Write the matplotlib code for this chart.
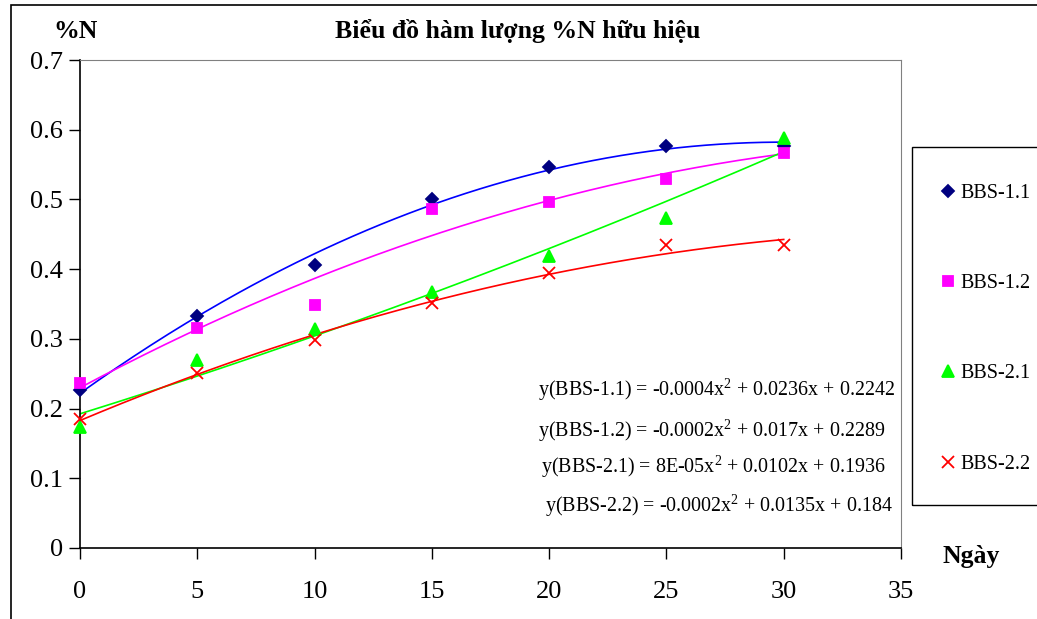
import numpy as np
import matplotlib
matplotlib.use("Agg")
import matplotlib.pyplot as plt
from matplotlib.patches import Rectangle

# Days of sampling
days = [0, 5, 10, 15, 20, 25, 30]

# %N values
bbs_11 = [0.226, 0.333, 0.406, 0.500, 0.546, 0.577, 0.577]
bbs_12 = [0.236, 0.316, 0.349, 0.486, 0.497, 0.530, 0.566]
bbs_21 = [0.174, 0.269, 0.314, 0.367, 0.419, 0.473, 0.588]
bbs_22 = [0.185, 0.251, 0.298, 0.352, 0.394, 0.434, 0.435]

labels = ["BBS-1.1", "BBS-1.2", "BBS-2.1", "BBS-2.2"]
equations = [
    "y(BBS-1.1) = -0.0004x$^2$ + 0.0236x + 0.2242",
    "y(BBS-1.2) = -0.0002x$^2$ + 0.017x + 0.2289",
    "y(BBS-2.1) = 8E-05x$^2$ + 0.0102x + 0.1936",
    "y(BBS-2.2) = -0.0002x$^2$ + 0.0135x + 0.184",
]

plt.rcParams['font.family'] = ['Liberation Serif', 'DejaVu Serif']
plt.rcParams['mathtext.fontset'] = 'custom'
plt.rcParams['mathtext.rm'] = 'Liberation Serif'

W, H = 1037, 619
fig = plt.figure(figsize=(W / 100, H / 100), dpi=100)
ax = fig.add_axes([80 / W, 1 - 548 / H, (901 - 80) / W, (548 - 60) / H])

series = [
    (bbs_11, 'D', '#000080', '#0000FF', 6.5),
    (bbs_12, 's', '#FF00FF', '#FF00FF', 7),
    (bbs_21, '^', '#00FF00', '#00FF00', 8.5),
    (bbs_22, 'x', '#FF0000', '#FF0000', 8.5),
]

xs = np.linspace(0, 30, 200)
handles = []
for (vals, mk, mcol, lcol, ms), lab in zip(series, labels):
    # 2nd order polynomial trendline, like Excel
    coef = np.polyfit(days, vals, 2)
    ax.plot(xs, np.polyval(coef, xs), color=lcol, lw=1.2, zorder=2)
    h, = ax.plot(days, vals, linestyle='none', marker=mk, color=mcol,
                 markersize=ms, markeredgewidth=1.3, label=lab, zorder=3,
                 clip_on=False)
    handles.append(h)

ax.set_xlim(0, 35)
ax.set_ylim(0, 0.7)
ax.set_xticks(range(0, 36, 5))
ax.set_yticks(np.arange(0, 0.71, 0.1))
ax.set_yticklabels(['0', '0.1', '0.2', '0.3', '0.4', '0.5', '0.6', '0.7'])
ax.tick_params(direction='out', length=8, width=1, labelsize=19, pad=4)
ax.tick_params(axis='x', pad=16)
ax.spines['top'].set_color('#808080')
ax.spines['right'].set_color('#808080')
for s in ['left', 'bottom']:
    ax.spines[s].set_linewidth(1.2)

# titles
fig.text(76 / W, 1 - 31 / H, "%N", fontsize=18.5, fontweight='bold',
         ha='center', va='center')
fig.text(518 / W, 1 - 31 / H, "Biểu đồ hàm lượng %N hữu hiệu", fontsize=18.5,
         fontweight='bold', ha='center', va='center')
fig.text(971 / W, 1 - 557 / H, "Ngày", fontsize=18.5, fontweight='bold',
         ha='center', va='center')

# trendline equations
eq_pos = [(538, 390), (538, 431), (541, 467), (545, 506)]
for txt, (px, py) in zip(equations, eq_pos):
    fig.text(px / W, 1 - py / H, txt, fontsize=14.4, ha='left', va='center')

# outer chart border
fig.add_artist(Rectangle((11 / W, -0.1), 1.2, 1 - 5 / H + 0.1,
                         transform=fig.transFigure, fill=False,
                         edgecolor='black', lw=1.2))

# legend box
fig.add_artist(Rectangle((912 / W, 1 - 505 / H), 0.2, (505 - 147) / H,
                         transform=fig.transFigure, fill=False,
                         edgecolor='black', lw=1))
fig.legend(handles=handles, loc='upper left',
           bbox_to_anchor=(940 / W, 1 - 184 / H), frameon=False,
           fontsize=14.5, labelspacing=3.53, handlelength=0.8,
           handletextpad=0.2, borderaxespad=0, borderpad=0)

fig.savefig("out.png", dpi=100)
